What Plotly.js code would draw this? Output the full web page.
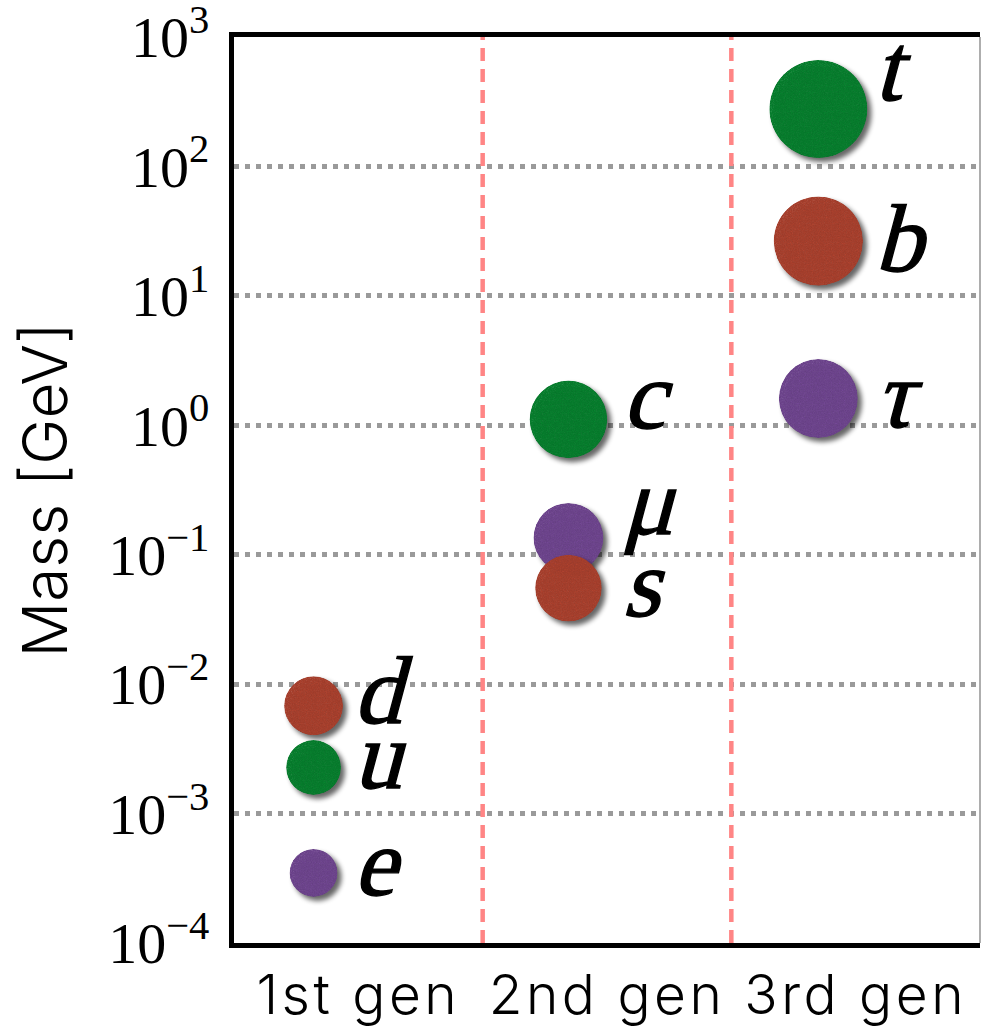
<!DOCTYPE html>
<html>
<head>
<meta charset="utf-8">
<script src="https://cdn.plot.ly/plotly-3.0.1.min.js"></script>
<style>
  html, body { margin: 0; padding: 0; background: #ffffff; }
  #chart { width: 981px; height: 1027px; }
</style>
</head>
<body>
<div id="chart"></div>
<script>
// ---------------- data ----------------
const generations = ['1st gen', '2nd gen', '3rd gen'];
const genIndex = [1, 2, 3];

const upNames = ['u', 'c', 't'];
const upMass = [0.00227, 1.11, 278];            // GeV

const downNames = ['d', 's', 'b'];
const downMass = [0.00681, 0.0552, 26.5];       // GeV

const leptonNames = ['e', 'μ', 'τ'];
const leptonMass = [0.000348, 0.135, 1.61];     // GeV

const yTickVals = [1e-4, 1e-3, 1e-2, 1e-1, 1e0, 1e1, 1e2, 1e3];
const yTickText = ['10<sup>−4</sup>', '10<sup>−3</sup>', '10<sup>−2</sup>', '10<sup>−1</sup>',
                   '10<sup>0</sup>', '10<sup>1</sup>', '10<sup>2</sup>', '10<sup>3</sup>'];

// ---------------- styling ----------------
const MARKER_DX = [-0.18, -0.155, -0.15];   // per generation: circles left of centre
const LABEL_DX = [0.005, 0.089, 0.103];     // per generation: letters right of centre
const LABEL_BASE_SHIFT = 11;                // centre the x-height on the circle
const LABEL_NUDGE = {t: 30, b: -8, 'τ': -7, c: 13, 'μ': 25, s: -6, d: 4, u: 1, e: -1};
const sizeFor = m => 77.3 + 8.47 * Math.log10(m);   // circle diameter grows with log mass

const SERIF = 'Liberation Serif';
const SANS = 'Inter';

const groups = [
  {name: 'charged leptons', names: leptonNames, mass: leptonMass, color: '#744896'},
  {name: 'down-type quarks', names: downNames, mass: downMass, color: '#b2432f'},
  {name: 'up-type quarks', names: upNames, mass: upMass, color: '#06852f'}
];

const traces = groups.map(g => ({
  type: 'scatter',
  mode: 'markers',
  name: g.name,
  x: genIndex.map((v, i) => v + MARKER_DX[i]),
  y: g.mass,
  text: g.names,
  hoverinfo: 'text+y',
  marker: {
    color: g.color,
    size: g.mass.map(sizeFor),
    line: {width: 0},
    opacity: 1
  },
  showlegend: false
}));

const annotations = [];
groups.forEach(g => {
  g.names.forEach((n, i) => {
    annotations.push({
      x: genIndex[i] + LABEL_DX[i],
      y: Math.log10(g.mass[i]),
      xref: 'x', yref: 'y',
      text: n,
      showarrow: false,
      xanchor: 'left',
      yanchor: 'middle',
      yshift: LABEL_BASE_SHIFT + (LABEL_NUDGE[n] || 0),
      font: {family: SERIF, size: 96, color: '#000000'}
    });
  });
});

const shapes = [
  // generation dividers
  {type: 'line', xref: 'x', yref: 'paper', x0: 1.5, x1: 1.5, y0: 0, y1: 1,
   line: {color: '#ff8585', width: 4.5, dash: '13px,8px'}},
  {type: 'line', xref: 'x', yref: 'paper', x0: 2.5, x1: 2.5, y0: 0, y1: 1,
   line: {color: '#ff8585', width: 4.5, dash: '13px,8px'}},
  // thin right border
  {type: 'line', xref: 'paper', yref: 'paper', x0: 1, x1: 1, y0: 0, y1: 1,
   line: {color: '#777777', width: 1.2}}
];

const layout = {
  width: 981,
  height: 1027,
  margin: {l: 234, r: 1, t: 37, b: 84, pad: 0},
  paper_bgcolor: '#ffffff',
  plot_bgcolor: '#ffffff',
  font: {family: SERIF, size: 40, color: '#000000'},
  showlegend: false,
  xaxis: {
    type: 'linear',
    range: [0.5, 3.5],
    tickmode: 'array',
    tickvals: genIndex,
    ticktext: generations,
    ticks: '',
    showgrid: false,
    zeroline: false,
    showline: true,
    linecolor: '#000000',
    linewidth: 5,
    mirror: true,
    ticklabelstandoff: 0,
    ticklabeloverflow: 'allow',
    tickfont: {family: SANS, size: 55, color: '#000000', weight: 300}
  },
  yaxis: {
    type: 'log',
    range: [-4, 3],
    tickmode: 'array',
    tickvals: yTickVals,
    ticktext: yTickText,
    ticks: '',
    showgrid: true,
    gridcolor: '#9a9a9a',
    gridwidth: 5,
    griddash: '5px,6px',
    zeroline: false,
    showline: true,
    linecolor: '#000000',
    linewidth: 5,
    mirror: false,
    ticklabelstandoff: 8,
    ticklabeloverflow: 'allow',
    tickfont: {family: SERIF, size: 58, color: '#000000'},
    title: {
      text: 'Mass [GeV]',
      standoff: 22,
      font: {family: SANS, size: 62, color: '#000000', weight: 300}
    }
  },
  shapes: shapes,
  annotations: annotations
};

Plotly.newPlot('chart', traces, layout, {displayModeBar: false, staticPlot: true}).then(gd => {
  // felt-like texture plus a soft drop shadow for the circles
  const svg = gd.querySelector('.main-svg');
  let defs = svg.querySelector('defs');
  const ns = 'http://www.w3.org/2000/svg';
  if (!defs) { defs = document.createElementNS(ns, 'defs'); svg.insertBefore(defs, svg.firstChild); }
  const wrap = document.createElementNS(ns, 'g');
  wrap.innerHTML =
    '<filter id="feltShadow" x="-30%" y="-30%" width="170%" height="170%" color-interpolation-filters="sRGB">' +
      '<feTurbulence type="fractalNoise" baseFrequency="0.85" numOctaves="3" seed="7" result="noise"/>' +
      '<feColorMatrix in="noise" type="saturate" values="0" result="grey"/>' +
      '<feComposite in="SourceGraphic" in2="grey" operator="arithmetic" k1="0.35" k2="0.82" k3="0" k4="0" result="tex"/>' +
      '<feComposite in="tex" in2="SourceAlpha" operator="in" result="texIn"/>' +
      '<feGaussianBlur in="SourceAlpha" stdDeviation="2.6" result="blur"/>' +
      '<feOffset in="blur" dx="3.5" dy="4" result="off"/>' +
      '<feComponentTransfer in="off" result="shadow"><feFuncA type="linear" slope="0.6"/></feComponentTransfer>' +
      '<feMerge><feMergeNode in="shadow"/><feMergeNode in="texIn"/></feMerge>' +
    '</filter>';
  defs.appendChild(wrap.firstChild);
  gd.querySelectorAll('.scatterlayer .trace .points path').forEach(p => {
    p.setAttribute('filter', 'url(#feltShadow)');
  });
  // slanted, slightly heavier serif particle letters
  gd.querySelectorAll('.annotation-text').forEach(t => {
    t.style.transformBox = 'fill-box';
    t.style.transformOrigin = '50% 50%';
    t.style.transform = 'skewX(-15deg)';
    t.style.stroke = '#000000';
    t.style.strokeWidth = '1.4px';
  });
  // wider tracking on the generation labels, like the light sans of the original
  gd.querySelectorAll('.xtick text').forEach(t => {
    t.style.letterSpacing = '3.5px';
  });
});
</script>
</body>
</html>
